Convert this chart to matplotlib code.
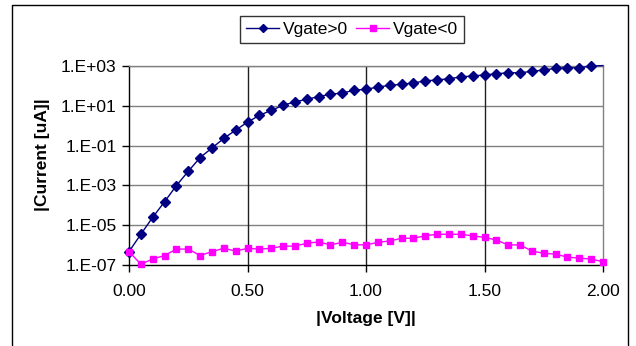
import matplotlib
matplotlib.use("Agg")
import matplotlib.pyplot as plt
from matplotlib.lines import Line2D
from matplotlib.ticker import FixedLocator, NullLocator

plt.rcParams['font.family'] = ['Liberation Sans', 'DejaVu Sans']

voltage = [0.00, 0.05, 0.10, 0.15, 0.20, 0.25, 0.30, 0.35, 0.40, 0.45,
           0.50, 0.55, 0.60, 0.65, 0.70, 0.75, 0.80, 0.85, 0.90, 0.95,
           1.00, 1.05, 1.10, 1.15, 1.20, 1.25, 1.30, 1.35, 1.40, 1.45,
           1.50, 1.55, 1.60, 1.65, 1.70, 1.75, 1.80, 1.85, 1.90, 1.95, 2.00]

current_pos = [4.7e-7, 3.5e-6, 2.5e-5, 1.5e-4, 9.8e-4, 5.1e-3, 2.5e-2, 7.6e-2, 0.23, 0.60,
               1.5, 3.3, 5.9, 10.5, 16, 21, 29, 38, 44, 60,
               68, 87, 107, 120, 141, 178, 200, 229, 282, 316,
               355, 407, 457, 457, 537, 631, 759, 813, 813, 1000, 1050]

current_neg = [4.7e-7, 1.1e-7, 2.0e-7, 3.0e-7, 6.3e-7, 6.3e-7, 3.0e-7, 4.7e-7, 6.9e-7, 5.0e-7,
               6.9e-7, 6.3e-7, 6.9e-7, 8.9e-7, 8.9e-7, 1.23e-6, 1.45e-6, 1.02e-6, 1.38e-6, 1.05e-6,
               1.02e-6, 1.38e-6, 1.62e-6, 2.2e-6, 2.2e-6, 2.95e-6, 3.5e-6, 3.5e-6, 3.5e-6, 2.9e-6,
               2.45e-6, 1.8e-6, 1.02e-6, 1.02e-6, 5.0e-7, 3.9e-7, 3.5e-7, 2.5e-7, 2.2e-7, 2.0e-7, 1.45e-7]

series_labels = ["Vgate>0", "Vgate<0"]
yticks = [1e-7, 1e-5, 1e-3, 1e-1, 1e1, 1e3]
ytick_labels = ["1.E-07", "1.E-05", "1.E-03", "1.E-01", "1.E+01", "1.E+03"]
xticks = [0.0, 0.5, 1.0, 1.5, 2.0]
xtick_labels = ["0.00", "0.50", "1.00", "1.50", "2.00"]

W, H = 636, 346
fig = plt.figure(figsize=(W / 100, H / 100), dpi=100)
L, R, T, B = 129, 603, 66, 265
ax = fig.add_axes([L / W, 1 - B / H, (R - L) / W, (B - T) / H])

ax.set_yscale('log')
ax.set_xlim(0, 2)
ax.set_ylim(1e-7, 1e3)

# gridlines
for yv in yticks[1:]:
    ax.axhline(yv, color='#808080', lw=1.0, zorder=1)
for xv in xticks[1:-1]:
    ax.axvline(xv, color='#202020', lw=1.0, zorder=1)

ax.plot(voltage, current_pos, color='#000080', lw=1.0, marker='D', ms=5.0,
        markevery=slice(0, len(voltage) - 1), label=series_labels[0], clip_on=False, zorder=3)
ax.plot(voltage, current_neg, color='#FF00FF', lw=1.0, marker='s', ms=5.0,
        label=series_labels[1], clip_on=False, zorder=3)

ax.yaxis.set_major_locator(FixedLocator(yticks))
ax.yaxis.set_minor_locator(NullLocator())
ax.set_yticklabels(ytick_labels)
ax.set_xticks(xticks)
ax.set_xticklabels(xtick_labels)

ax.tick_params(axis='both', direction='out', length=5, width=1, color='black', labelsize=12.5)
ax.tick_params(axis='x', pad=9)
ax.tick_params(axis='y', pad=4)

for s in ['top', 'right']:
    ax.spines[s].set_color('#808080')
for s in ['left', 'bottom']:
    ax.spines[s].set_color('black')
for s in ax.spines.values():
    s.set_linewidth(1.0)

fig.text(366 / W, 1 - 322.5 / H, "|Voltage [V]|", ha='center', va='baseline',
         fontsize=12.5, fontweight='bold')
fig.text(43 / W, 1 - 155 / H, "|Current [uA]|", ha='center', va='center',
         rotation=90, fontsize=12.5, fontweight='bold')

leg = fig.legend(loc='center', bbox_to_anchor=(352 / W, 1 - 29.5 / H), ncol=2,
                 fontsize=12.5, frameon=True, fancybox=False, edgecolor='black',
                 handlelength=1.9, handletextpad=0.2, columnspacing=0.5,
                 borderpad=0.35, borderaxespad=0, markerscale=0.8)
leg.get_frame().set_linewidth(1.0)

# chart area border
fig.add_artist(Line2D([12 / W, 12 / W, 628 / W, 628 / W],
                      [0, 1 - 5 / H, 1 - 5 / H, 0], color='black', lw=1.0,
                      transform=fig.transFigure))

fig.savefig("out.png", dpi=100)
